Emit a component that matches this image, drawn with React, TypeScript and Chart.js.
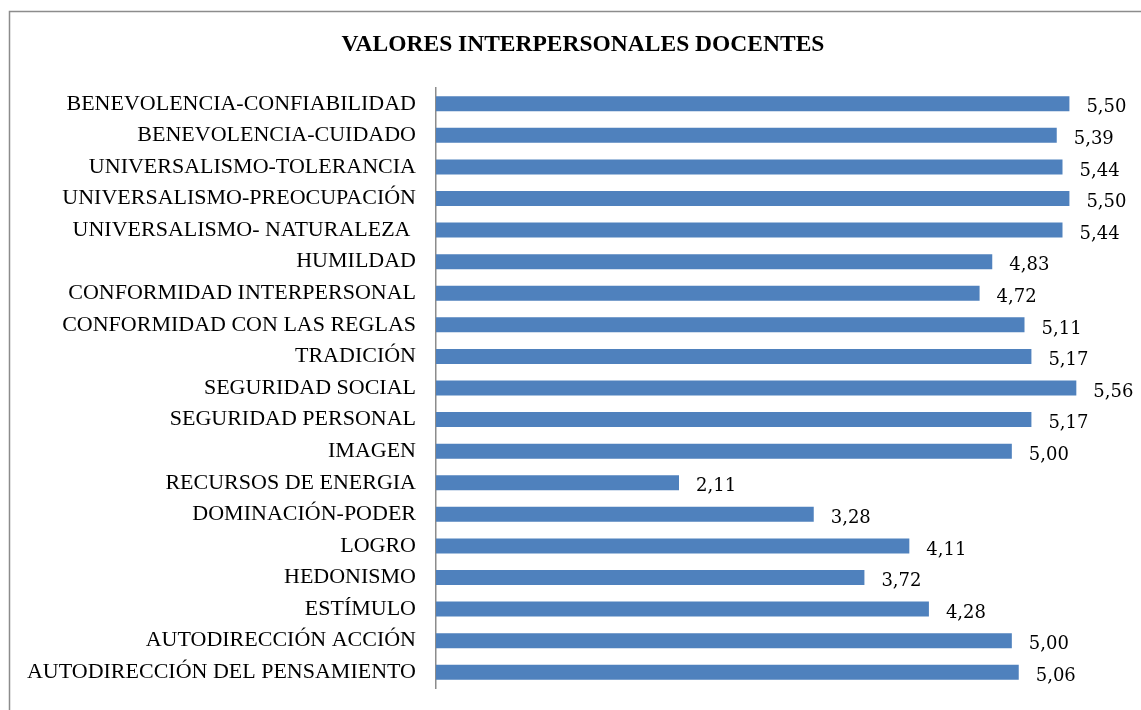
import React, { useEffect, useRef } from "react";
import { Chart, registerables } from "chart.js";

Chart.register(...registerables);

const categories: string[] = [
  "BENEVOLENCIA-CONFIABILIDAD",
  "BENEVOLENCIA-CUIDADO",
  "UNIVERSALISMO-TOLERANCIA",
  "UNIVERSALISMO-PREOCUPACIÓN",
  "UNIVERSALISMO- NATURALEZA ",
  "HUMILDAD",
  "CONFORMIDAD INTERPERSONAL",
  "CONFORMIDAD CON LAS REGLAS",
  "TRADICIÓN",
  "SEGURIDAD SOCIAL",
  "SEGURIDAD PERSONAL",
  "IMAGEN",
  "RECURSOS DE ENERGIA",
  "DOMINACIÓN-PODER",
  "LOGRO",
  "HEDONISMO",
  "ESTÍMULO",
  "AUTODIRECCIÓN ACCIÓN",
  "AUTODIRECCIÓN DEL PENSAMIENTO",
];

const values: number[] = [
  5.5, 5.39, 5.44, 5.5, 5.44, 4.83, 4.72, 5.11, 5.17, 5.56, 5.17, 5.0, 2.11, 3.28, 4.11, 3.72, 4.28, 5.0, 5.06,
];

const chartTitle = "VALORES INTERPERSONALES DOCENTES";
const axisMax = 6;

const framePlugin = {
  id: "frameAndTitle",
  beforeDraw(chart: any) {
    const ctx = chart.ctx;
    ctx.save();
    ctx.fillStyle = "#ffffff";
    ctx.fillRect(0, 0, chart.width, chart.height);
    ctx.strokeStyle = "#8c8c8c";
    ctx.lineWidth = 1.5;
    ctx.strokeRect(9.5, 11.5, chart.width + 20, chart.height + 20);
    ctx.fillStyle = "#000000";
    ctx.font = "bold 23.5px 'Liberation Serif', serif";
    ctx.textAlign = "center";
    ctx.textBaseline = "middle";
    ctx.fillText(chartTitle, 583, 45);
    ctx.restore();
  },
  afterDatasetsDraw(chart: any) {
    const ctx = chart.ctx;
    const meta = chart.getDatasetMeta(0);
    ctx.save();
    ctx.fillStyle = "#000000";
    ctx.font = "18px 'DejaVu Serif', serif";
    ctx.textAlign = "left";
    ctx.textBaseline = "middle";
    meta.data.forEach((bar: any, i: number) => {
      const txt = values[i].toFixed(2).replace(".", ",");
      ctx.fillText(txt, bar.x + 17, bar.y + 4);
    });
    ctx.restore();
  },
};

export default function App() {
  const ref = useRef<HTMLCanvasElement | null>(null);
  useEffect(() => {
    if (!ref.current) return;
    const chart = new Chart(ref.current, {
      type: "bar",
      data: {
        labels: categories,
        datasets: [
          {
            data: values,
            backgroundColor: "#4F81BD",
            borderWidth: 0,
            barPercentage: 0.95,
            categoryPercentage: 0.5,
          },
        ],
      },
      options: {
        indexAxis: "y",
        animation: false,
        responsive: false,
        maintainAspectRatio: false,
        layout: { padding: { top: 88, bottom: 22, right: 14, left: 0 } },
        plugins: {
          legend: { display: false },
          title: { display: false },
          tooltip: { enabled: false },
        },
        scales: {
          x: {
            display: false,
            min: 0,
            max: axisMax,
          },
          y: {
            grid: { display: false, drawTicks: false },
            border: { display: true, color: "#8c8c8c", width: 1.5 },
            ticks: {
              color: "#000000",
              padding: 20,
              font: { family: "'Liberation Serif', serif", size: 22 },
              autoSkip: false,
            },
            afterFit(scale: any) {
              scale.width = 436;
              scale.paddingTop = 0;
              scale.paddingBottom = 0;
            },
          },
        },
      },
      plugins: [framePlugin],
    });
    return () => chart.destroy();
  }, []);
  return (
    <div style={{ position: "absolute", left: 0, top: 0, width: 1141, height: 710 }}>
      <canvas ref={ref} width={1141} height={710} style={{ display: "block" }} />
    </div>
  );
}
